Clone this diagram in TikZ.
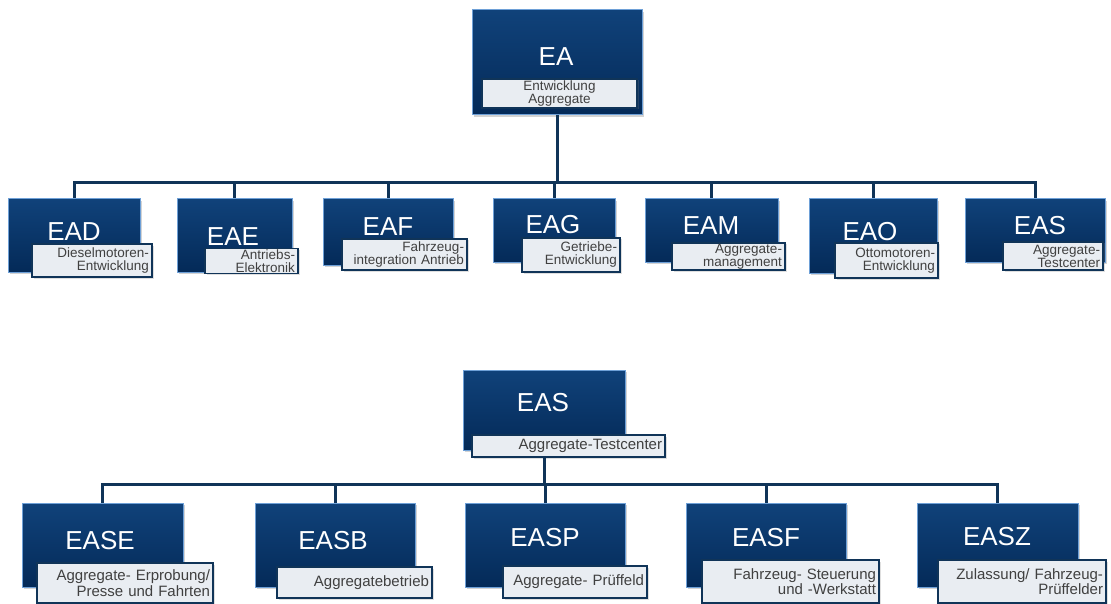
\documentclass[tikz,border=0pt]{standalone}
\usepackage{fontspec}
\setmainfont{Liberation Sans}
\usetikzlibrary{shadows}
\definecolor{D1}{RGB}{4,42,88}
\definecolor{D2}{RGB}{16,66,122}
\definecolor{D3}{RGB}{110,160,215}
\definecolor{L1}{RGB}{233,237,242}
\definecolor{N1}{RGB}{16,52,88}
\tikzstyle{unitbox}=[shape=rectangle, inner sep=0, top color=D2, bottom color=D1, draw=D3, line width=1pt, drop shadow={opacity=.35, shadow xshift=2pt, shadow yshift=-2pt}]
\tikzstyle{unitcode}=[inner sep=0, text=white, font=\fontsize{26}{26}\selectfont]
\tikzstyle{unittag}=[shape=rectangle, inner xsep=3pt, inner ysep=1pt, fill=L1, draw=N1, line width=1.2pt, align=right, text=black!75, font=\fontsize{13.5}{13}\selectfont, drop shadow={opacity=.25, shadow xshift=1.5pt, shadow yshift=-1.5pt}]
\tikzstyle{bigtag}=[unittag, font=\fontsize{15}{15.5}\selectfont]
\tikzstyle{link}=[N1, line width=3pt]

\begin{document}
\begin{tikzpicture}[x=1pt, y=-1pt]
  \useasboundingbox (0,0) rectangle (1111,604);
  % EA und erste Ebene
  \node[unitbox, minimum width=170, minimum height=105] (ea) at (557,62.5) {};
  \node[unitcode] (eacode) at (556,57) {EA};
  \coordinate (bus1) at (0,183);
  \node[unitbox, minimum width=132, minimum height=73] (ead) at (74,235.5) {};
  \node[unitbox, minimum width=115, minimum height=73] (eae) at (234.5,235.5) {};
  \node[unitbox, minimum width=130, minimum height=66] (eaf) at (388,232) {};
  \node[unitbox, minimum width=122, minimum height=63] (eag) at (554,230.5) {};
  \node[unitbox, minimum width=133, minimum height=63] (eam) at (711.5,230.5) {};
  \node[unitbox, minimum width=128, minimum height=74] (eao) at (873,236) {};
  \node[unitbox, minimum width=140, minimum height=63] (eas) at (1035,230.5) {};
  \foreach \n in {ead,eae,eaf,eag,eam,eao,eas}
    \draw[link] (ea.south) -- (ea.south |- bus1) -| (\n.north);
  \node[unittag, align=center, text width=149, minimum height=29] (eatag) at (559.5,93.5) {Entwicklung\\Aggregate};
  \node[unitcode] (eadcode) at (74,232) {EAD};
  \node[unitcode] (eaecode) at (233,237) {EAE};
  \node[unitcode] (eafcode) at (388,227) {EAF};
  \node[unitcode] (eagcode) at (553,225) {EAG};
  \node[unitcode] (eamcode) at (711,226) {EAM};
  \node[unitcode] (eaocode) at (870,232) {EAO};
  \node[unitcode] (eascode) at (1040,226) {EAS};
  \node[unittag, text width=114, minimum height=33] (eadtag) at (92,260.5) {Dieselmotoren-\\Entwicklung};
  \node[unittag, text width=87, minimum height=24] (eaetag) at (251.5,261) {Antriebs-\\Elektronik};
  \node[unittag, text width=119, minimum height=31] (eaftag) at (404.5,254.5) {Fahrzeug-\\integration Antrieb};
  \node[unittag, text width=92, minimum height=34] (eagtag) at (571,255) {Getriebe-\\Entwicklung};
  \node[unittag, text width=107, minimum height=27] (eamtag) at (728.5,256.5) {Aggregate-\\management};
  \node[unittag, text width=97, minimum height=35] (eaotag) at (886.5,260.5) {Ottomotoren-\\Entwicklung};
  \node[unittag, text width=94, minimum height=28] (eastag) at (1053,256) {Aggregate-\\Testcenter};
  % EAS und zweite Ebene
  \node[unitbox, minimum width=162, minimum height=80] (eas2) at (544,410) {};
  \node[unitcode] (eas2code) at (543,403) {EAS};
  \node[bigtag, text width=187, minimum height=22] (eas2tag) at (568.5,446) {Aggregate-Testcenter};
  \coordinate (bus2) at (0,484);
  \node[unitbox, minimum width=161, minimum height=84] (ease) at (102.5,545) {};
  \node[unitbox, minimum width=160, minimum height=84] (easb) at (335,545) {};
  \node[unitbox, minimum width=160, minimum height=84] (easp) at (545,545) {};
  \node[unitbox, minimum width=160, minimum height=84] (easf) at (766,545) {};
  \node[unitbox, minimum width=161, minimum height=84] (easz) at (997.5,545) {};
  \foreach \n in {ease,easb,easp,easf,easz}
    \draw[link] (eas2.south |- eas2tag.south) -- (eas2.south |- bus2) -| (\n.north);
  \node[unitcode] (easecode) at (100,541) {EASE};
  \node[unitcode] (easbcode) at (333,541) {EASB};
  \node[unitcode] (easpcode) at (545,538) {EASP};
  \node[unitcode] (easfcode) at (766,538) {EASF};
  \node[unitcode] (easzcode) at (997,537) {EASZ};
  \node[bigtag, text width=170, minimum height=40] (easetag) at (125,583) {Aggregate- Erprobung/\\Presse und Fahrten};
  \node[bigtag, text width=149, minimum height=31] (easbtag) at (354.5,582.5) {Aggregatebetrieb};
  \node[bigtag, text width=138, minimum height=32] (easptag) at (575,582) {Aggregate- Prüffeld};
  \node[bigtag, text width=171, minimum height=43] (easftag) at (790.5,581.5) {Fahrzeug- Steuerung\\und -Werkstatt};
  \node[bigtag, text width=162, minimum height=43] (easztag) at (1022,581.5) {Zulassung/ Fahrzeug-\\Prüffelder};
\end{tikzpicture}
\end{document}
